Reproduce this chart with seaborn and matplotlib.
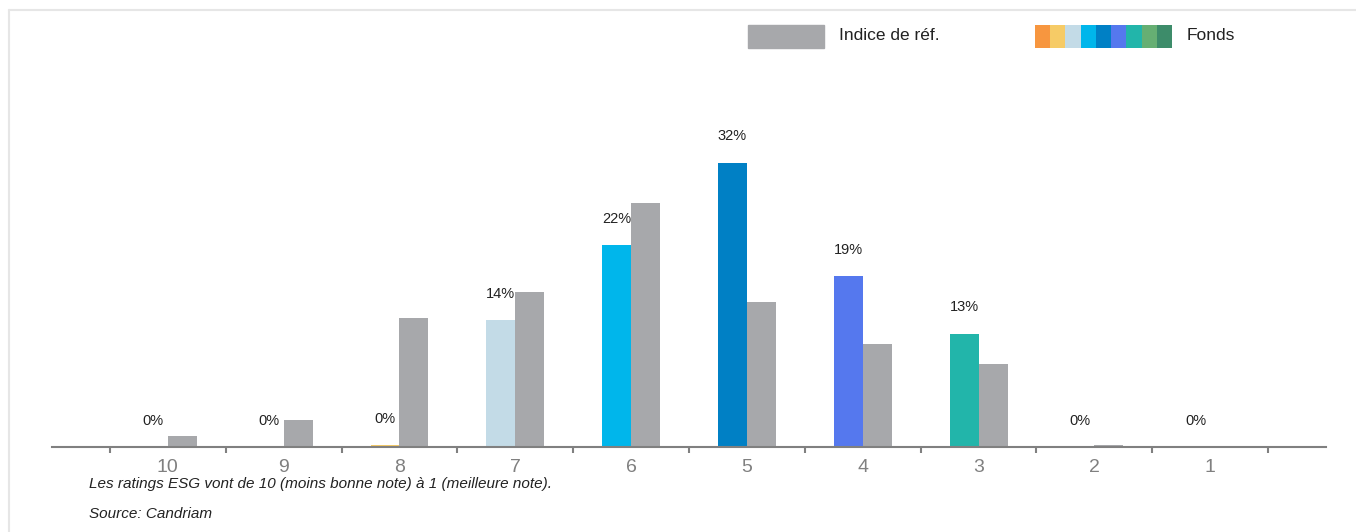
import pandas as pd
import matplotlib.pyplot as plt
from matplotlib.patches import Rectangle
from matplotlib.lines import Line2D
import seaborn as sns

# ratings ESG, du moins bon au meilleur
ratings = ["10", "9", "8", "7", "6", "5", "4", "3", "2", "1"]
fonds = [0.0, 0.0, 0.2, 14.1, 22.4, 31.6, 19.0, 12.6, 0.0, 0.0]
indice = [1.25, 3.0, 14.3, 17.2, 27.1, 16.1, 11.4, 9.2, 0.2, 0.0]

fund_colors = ["#F7963F", "#F7963F", "#F6CB66", "#C3DBE7", "#00B6EB",
               "#0080C5", "#5578EE", "#22B5AA", "#66AF73", "#3D8C6A"]
legend_colors = ["#F7963F", "#F6CB66", "#C3DBE7", "#00B6EB", "#0080C5",
                 "#5578EE", "#22B5AA", "#66AF73", "#3D8C6A"]
grey = "#A7A8AB"

df = pd.DataFrame({
    "rating": ratings * 2,
    "value": fonds + indice,
    "serie": ["Fonds"] * len(ratings) + ["Indice de réf."] * len(ratings),
})

sns.set_theme(style="white")
plt.rcParams["font.family"] = ["Liberation Sans", "DejaVu Sans"]

W, H = 1356, 532
fig = plt.figure(figsize=(W / 100, H / 100), dpi=100)
ax = fig.add_axes([52 / W, 85 / H, (1326 - 52) / W, 360 / H])

sns.barplot(data=df, x="rating", y="value", hue="serie", order=ratings,
            hue_order=["Fonds", "Indice de réf."],
            palette={"Fonds": fund_colors[0], "Indice de réf.": grey},
            width=0.5, saturation=1, legend=False, ax=ax)

# couleur par note pour le fonds
for bar, c in zip(ax.containers[0], fund_colors):
    bar.set_facecolor(c)
    bar.set_edgecolor("none")
for bar in ax.containers[1]:
    bar.set_edgecolor("none")

# etiquettes au-dessus des barres du fonds
for bar, v in zip(ax.containers[0], fonds):
    ax.annotate(f"{round(v)}%", (bar.get_x() + bar.get_width() / 2, bar.get_height()),
                xytext=(0, 19), textcoords="offset points", ha="center", va="center",
                fontsize=10.5, color="#222222", annotation_clip=False)

ax.set_xlim(-1, 10)
ax.set_ylim(0, 40)
ax.set_xlabel("")
ax.set_ylabel("")
ax.set_yticks([])
for s in ["top", "right", "left"]:
    ax.spines[s].set_visible(False)
ax.spines["bottom"].set_color("#808080")
ax.spines["bottom"].set_linewidth(1.5)
ax.set_xticks(range(len(ratings)))
ax.set_xticklabels(ratings)
ax.set_xticks([i - 0.5 for i in range(len(ratings) + 1)], minor=True)
ax.tick_params(axis="x", which="major", length=0, pad=9, labelsize=14, labelcolor="#808080")
ax.tick_params(axis="x", which="minor", length=4, width=1.5, color="#808080", direction="out", bottom=True)

# legende
fig.add_artist(Rectangle((748 / W, 1 - 48 / H), 76 / W, 23 / H, color=grey, transform=fig.transFigure))
fig.text(839 / W, 1 - 35 / H, "Indice de réf.", fontsize=12.5, va="center", color="#222222")
sw = 137 / len(legend_colors)
for i, c in enumerate(legend_colors):
    fig.add_artist(Rectangle(((1035 + i * sw) / W, 1 - 48 / H), sw / W + 0.0002, 23 / H,
                             color=c, transform=fig.transFigure, linewidth=0))
fig.text(1187 / W, 1 - 35 / H, "Fonds", fontsize=12.5, va="center", color="#222222")

# notes de bas
fig.text(89 / W, 1 - 484 / H, "Les ratings ESG vont de 10 (moins bonne note) à 1 (meilleure note).",
         fontsize=11, style="italic", va="center", color="#222222")
fig.text(89 / W, 1 - 514 / H, "Source: Candriam", fontsize=11, style="italic", va="center", color="#222222")

# cadre leger
fig.add_artist(Line2D([9 / W, 1], [1 - 10 / H, 1 - 10 / H], color="#E6E6E6", lw=1.5, transform=fig.transFigure))
fig.add_artist(Line2D([9 / W, 9 / W], [0, 1 - 10 / H], color="#E6E6E6", lw=1.5, transform=fig.transFigure))

fig.savefig("out.png", dpi=100)
